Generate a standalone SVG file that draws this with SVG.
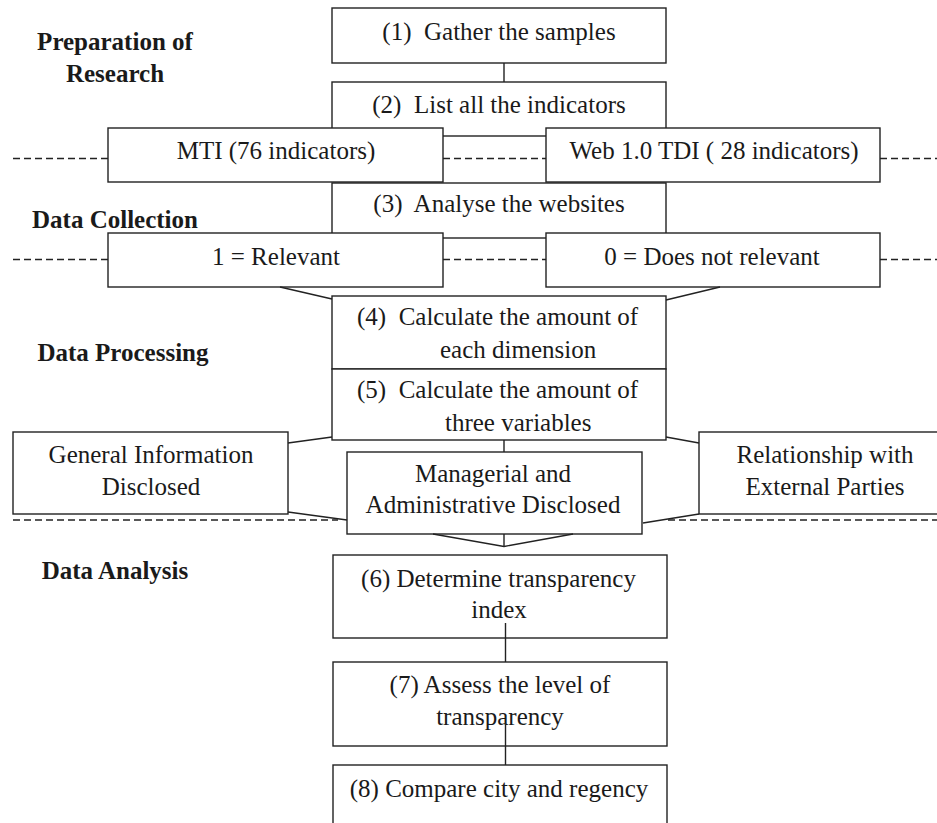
<svg xmlns="http://www.w3.org/2000/svg" width="937" height="823" viewBox="0 0 937 823">
<style>
  .box { fill: #fff; stroke: #222; stroke-width: 1.4; }
  .t { font-family: "Liberation Serif", "Times New Roman", serif; font-size: 25px; fill: #1a1a1a; text-anchor: middle; }
  .ts { font-family: "Liberation Serif", "Times New Roman", serif; font-size: 25px; fill: #1a1a1a; text-anchor: start; }
  .lbl { font-family: "Liberation Serif", "Times New Roman", serif; font-size: 25px; font-weight: bold; fill: #1a1a1a; text-anchor: middle; }
  .ln { stroke: #222; stroke-width: 1.4; fill: none; }
  .dash { stroke: #222; stroke-width: 1.4; stroke-dasharray: 7 4; fill: none; }
</style>
<rect width="937" height="823" fill="#fff"/>

<g id="section-labels">
  <text class="lbl" x="115" y="50">Preparation of</text>
  <text class="lbl" x="115" y="82">Research</text>
  <text class="lbl" x="115" y="228">Data Collection</text>
  <text class="lbl" x="123" y="361">Data Processing</text>
  <text class="lbl" x="115" y="579">Data Analysis</text>
</g>

<g id="dividers">
  <line class="dash" x1="13" y1="158.5" x2="108" y2="158.5"/>
  <line class="dash" x1="443" y1="158.5" x2="546" y2="158.5"/>
  <line class="dash" x1="880" y1="158.5" x2="937" y2="158.5"/>
  <line class="dash" x1="13" y1="259.5" x2="108" y2="259.5"/>
  <line class="dash" x1="443" y1="259.5" x2="546" y2="259.5"/>
  <line class="dash" x1="880" y1="259.5" x2="937" y2="259.5"/>
  <line class="dash" x1="13" y1="520" x2="338" y2="520"/>
  <line class="dash" x1="668" y1="520" x2="937" y2="520"/>
</g>

<g id="n1">
  <rect class="box" x="332" y="8" width="334" height="55"/>
  <text class="t" x="499" y="40" xml:space="preserve">(1)  Gather the samples</text>
</g>
<g id="n2">
  <rect class="box" x="332" y="82" width="334" height="54"/>
  <text class="t" x="499" y="113" xml:space="preserve">(2)  List all the indicators</text>
</g>
<g id="n3">
  <rect class="box" x="332" y="183" width="334" height="55"/>
  <text class="t" x="499" y="212" xml:space="preserve">(3)  Analyse the websites</text>
</g>
<g id="mti">
  <rect class="box" x="108" y="128" width="335" height="54"/>
  <text class="t" x="276" y="159">MTI (76 indicators)</text>
</g>
<g id="tdi">
  <rect class="box" x="546" y="128" width="334" height="54"/>
  <text class="t" x="714" y="159" xml:space="preserve">Web 1.0 TDI ( 28 indicators)</text>
</g>
<g id="relevant">
  <rect class="box" x="108" y="233" width="335" height="54"/>
  <text class="t" x="276" y="265">1 = Relevant</text>
</g>
<g id="not-relevant">
  <rect class="box" x="546" y="233" width="334" height="54"/>
  <text class="t" x="712" y="265">0 = Does not relevant</text>
</g>
<g id="n4">
  <rect class="box" x="332" y="296" width="334" height="73"/>
  <text class="ts" x="357" y="325" xml:space="preserve">(4)  Calculate the amount of</text>
  <text class="ts" x="440" y="358">each dimension</text>
</g>
<g id="n5">
  <rect class="box" x="332" y="369" width="334" height="71"/>
  <text class="ts" x="357" y="398" xml:space="preserve">(5)  Calculate the amount of</text>
  <text class="ts" x="445" y="431">three variables</text>
</g>
<g id="general">
  <rect class="box" x="13" y="432" width="275" height="82"/>
  <text class="t" x="151" y="463">General Information</text>
  <text class="t" x="151" y="495">Disclosed</text>
</g>
<g id="managerial">
  <rect class="box" x="347" y="452" width="295" height="82"/>
  <text class="t" x="493" y="482">Managerial and</text>
  <text class="t" x="493" y="513">Administrative Disclosed</text>
</g>
<g id="relationship">
  <rect class="box" x="699" y="432" width="260" height="82"/>
  <text class="t" x="825" y="463">Relationship with</text>
  <text class="t" x="825" y="495">External Parties</text>
</g>
<g id="n6">
  <rect class="box" x="333" y="555" width="334" height="83"/>
  <text class="t" x="498.5" y="587">(6) Determine transparency</text>
  <text class="t" x="499" y="618">index</text>
</g>
<g id="n7">
  <rect class="box" x="333" y="662" width="334" height="84"/>
  <text class="t" x="500" y="693">(7) Assess the level of</text>
  <text class="t" x="500" y="725">transparency</text>
</g>
<g id="n8">
  <rect class="box" x="333" y="765" width="334" height="80"/>
  <text class="t" x="499" y="797">(8) Compare city and regency</text>
</g>

<g id="connectors">
  <line class="ln" x1="504" y1="63" x2="504" y2="82"/>
  <line class="ln" x1="280" y1="287" x2="332" y2="299"/>
  <line class="ln" x1="720" y1="287" x2="666" y2="300"/>
  <line class="ln" x1="288" y1="443" x2="332" y2="437"/>
  <line class="ln" x1="666" y1="437" x2="699" y2="443"/>
  <line class="ln" x1="504" y1="440" x2="504" y2="452"/>
  <line class="ln" x1="288" y1="512" x2="347" y2="520"/>
  <line class="ln" x1="699" y1="514" x2="643" y2="523"/>
  <polyline class="ln" points="433,534 504,546.5 573,534"/>
  <line class="ln" x1="504" y1="534" x2="504" y2="546"/>
  <line class="ln" x1="505.5" y1="623" x2="505.5" y2="662"/>
  <line class="ln" x1="505.5" y1="723" x2="505.5" y2="765"/>
</g>
</svg>
